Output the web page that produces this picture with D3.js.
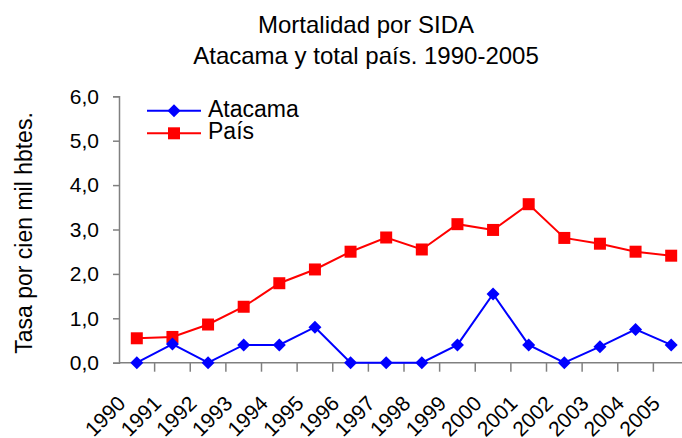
<!DOCTYPE html>
<html>
<head>
<meta charset="utf-8">
<script src="https://cdn.jsdelivr.net/npm/d3@7"></script>
<style>
    body { margin: 0; background: #fff; }
    text { font-family: "Liberation Sans", Arial, sans-serif; fill: #000; }
</style>
</head>
<body>
<div id="chart"></div>
<script>
// data
var years = ['1990','1991','1992','1993','1994','1995','1996','1997',
             '1998','1999','2000','2001','2002','2003','2004','2005'];
var atacama = [0, 0.42, 0, 0.40, 0.40, 0.80, 0, 0, 0, 0.40, 1.55, 0.40, 0, 0.36, 0.75, 0.40];
var pais = [0.55, 0.58, 0.86, 1.26, 1.79, 2.10, 2.50, 2.82, 2.55, 3.12, 2.99, 3.57, 2.81, 2.68, 2.50, 2.41];
var yTicks = [0, 1, 2, 3, 4, 5, 6];
var titleLines = ['Mortalidad por SIDA', 'Atacama y total país. 1990-2005'];
var seriesNames = ['Atacama', 'País'];

var width = 682;
var height = 438;

var svg = d3.select('#chart').append('svg')
    .attr('width', width)
    .attr('height', height);

// scales
var xScale = d3.scaleBand()
    .domain(years)
    .range([119, 689]);
var yScale = d3.scaleLinear()
    .domain([0, 6])
    .range([362.7, 96.3]);

var fmt = function(d){ return d3.format('.1f')(d).replace('.', ','); };

// title
svg.selectAll('.title')
    .data(titleLines)
    .enter()
    .append('text')
        .attr('class', 'title')
        .attr('x', 366)
        .attr('y', function(d,i){ return 33 + i*31; })
        .attr('text-anchor', 'middle')
        .style('font-size', '24px')
        .text(function(d){ return d; });

// y axis
var yAxis = d3.axisLeft(yScale)
    .tickValues(yTicks)
    .tickSize(6)
    .tickPadding(14)
    .tickFormat(fmt);

var yG = svg.append('g')
    .attr('transform', 'translate(' + xScale.range()[0] + ',0)')
    .call(yAxis);
yG.select('.domain').attr('stroke', '#808080').attr('stroke-width', 1.5);
yG.selectAll('.tick line').attr('stroke', '#808080').attr('stroke-width', 1.5);
yG.selectAll('.tick text')
    .style('font-size', '21px')
    .attr('fill', '#000');

// y title
svg.append('text')
    .attr('transform', 'translate(32,233) rotate(-90)')
    .attr('text-anchor', 'middle')
    .style('font-size', '23px')
    .text('Tasa por cien mil hbtes.');

// x axis - labels only, ticks drawn at the band edges
var xAxis = d3.axisBottom(xScale)
    .tickSize(0)
    .tickPadding(0);

var xG = svg.append('g')
    .attr('transform', 'translate(0,' + yScale(0) + ')')
    .call(xAxis);
xG.select('.domain').remove();
xG.selectAll('.tick text')
    .style('font-size', '21px')
    .attr('text-anchor', 'end')
    .attr('dy', null)
    .attr('y', null)
    .attr('transform', 'translate(-10,42) rotate(-45)');

svg.append('line')
    .attr('x1', xScale.range()[0])
    .attr('x2', width)
    .attr('y1', yScale(0))
    .attr('y2', yScale(0))
    .attr('stroke', '#808080')
    .attr('stroke-width', 1.5);

svg.selectAll('.xtick')
    .data(years.slice(1))
    .enter()
    .append('line')
        .attr('class', 'xtick')
        .attr('x1', function(d){ return xScale(d); })
        .attr('x2', function(d){ return xScale(d); })
        .attr('y1', yScale(0))
        .attr('y2', yScale(0) + 9)
        .attr('stroke', '#808080')
        .attr('stroke-width', 1.5);

// lines
var cx = function(d,i){ return xScale(years[i]) + xScale.bandwidth()/2; };
var line = d3.line()
    .x(cx)
    .y(function(d){ return yScale(d); });

var diamond = 'M0,-6.5L6.5,0L0,6.5L-6.5,0Z';
var square = 'M-6,-6H6V6H-6Z';

function drawSeries(vals, color, shape){
    var g = svg.append('g');
    g.append('path')
        .datum(vals)
        .attr('d', line)
        .attr('fill', 'none')
        .attr('stroke', color)
        .attr('stroke-width', 2);
    g.selectAll('path.mark')
        .data(vals)
        .enter()
        .append('path')
            .attr('class', 'mark')
            .attr('d', shape)
            .attr('transform', function(d,i){
                return 'translate(' + cx(d,i) + ',' + yScale(d) + ')';
            })
            .attr('fill', color);
}

drawSeries(pais, '#ff0000', square);
drawSeries(atacama, '#0000ff', diamond);

// legend
var legColors = ['#0000ff', '#ff0000'];
var legShapes = [diamond, square];
var leg = svg.selectAll('.leg')
    .data(seriesNames)
    .enter()
    .append('g')
        .attr('class', 'leg')
        .attr('transform', function(d,i){ return 'translate(0,' + (110.7 + i*22.6) + ')'; });
leg.append('line')
    .attr('x1', 147).attr('x2', 201)
    .attr('stroke', function(d,i){ return legColors[i]; })
    .attr('stroke-width', 2);
leg.append('path')
    .attr('d', function(d,i){ return legShapes[i]; })
    .attr('transform', 'translate(174,0)')
    .attr('fill', function(d,i){ return legColors[i]; });
leg.append('text')
    .attr('x', 208)
    .attr('y', 6)
    .style('font-size', '23px')
    .text(function(d){ return d; });
</script>
</body>
</html>
